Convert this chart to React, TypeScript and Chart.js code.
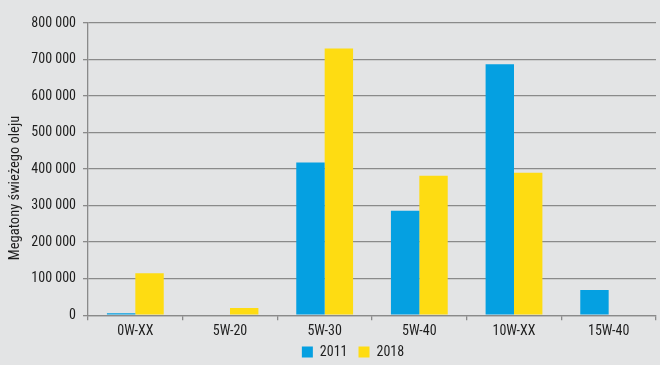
import React, { useEffect, useRef } from "react";
import { Chart, registerables } from "chart.js";

Chart.register(...registerables);

const categories = ["0W-XX", "5W-20", "5W-30", "5W-40", "10W-XX", "15W-40"];
const series2011 = [5000, 0, 418000, 286000, 687000, 69000];
const series2018 = [115000, 20000, 730000, 382000, 390000, 0];
const yTicks = [0, 100000, 200000, 300000, 400000, 500000, 600000, 700000, 800000];
const yTitle = "Megatony świeżego oleju";

const FONT = "'Roboto Condensed', 'Liberation Sans Narrow', sans-serif";
const BG = "#e3e4e5";
const GRID = "#8a8a8a";
const TEXT = "#1e1e1e";

const fmt = (v: number) => String(Math.round(v)).replace(/\B(?=(\d{3})+(?!\d))/g, " ");

export default function App() {
  const ref = useRef<HTMLCanvasElement | null>(null);
  useEffect(() => {
    if (!ref.current) return;
    const helper = {
      id: "helper",
      afterLayout(chart: any) {
        const lg = chart.legend;
        if (lg) {
          const dx = 25;
          const dy = -9;
          lg.left += dx;
          lg.right += dx;
          lg.top += dy;
          lg.bottom += dy;
        }
      },
      afterDraw(chart: any) {
        const ctx = chart.ctx;
        ctx.save();
        ctx.translate(15, 188);
        ctx.rotate(-Math.PI / 2);
        ctx.font = `14.5px ${FONT}`;
        ctx.fillStyle = TEXT;
        ctx.textAlign = "center";
        ctx.textBaseline = "middle";
        ctx.fillText(yTitle, 0, 0);
        ctx.restore();
      },
    };
    const chart = new Chart(ref.current, {
      type: "bar",
      data: {
        labels: categories,
        datasets: [
          { label: "2011", data: series2011, backgroundColor: "#05a0e1", borderWidth: 0 },
          { label: "2018", data: series2018, backgroundColor: "#fedc12", borderWidth: 0 },
        ],
      },
      options: {
        responsive: false,
        animation: false,
        devicePixelRatio: 1,
        layout: { padding: { left: 0, right: 4, top: 23, bottom: -13 } },
        datasets: { bar: { categoryPercentage: 0.6, barPercentage: 1.0 } },
        scales: {
          x: {
            offset: true,
            grid: { display: true, drawOnChartArea: false, drawTicks: true, tickLength: 5, color: GRID, lineWidth: 1.3, offset: true },
            border: { display: true, color: GRID, width: 1.3 },
            ticks: { color: TEXT, font: { family: FONT, size: 14 }, padding: 3, maxRotation: 0 },
          },
          y: {
            min: 0,
            max: 800000,
            afterFit: (scale: any) => { scale.width = 88; },
            afterBuildTicks: (scale: any) => { scale.ticks = yTicks.map((v) => ({ value: v })); },
            grid: { color: GRID, lineWidth: 1.3, tickLength: 5, drawTicks: true },
            border: { display: true, color: GRID, width: 1.3 },
            ticks: { color: TEXT, font: { family: FONT, size: 14 }, padding: 7, callback: (v: any) => fmt(Number(v)) },
          },
        },
        plugins: {
          legend: {
            position: "bottom",
            labels: {
              boxWidth: 11,
              boxHeight: 11,
              padding: 11,
              color: TEXT,
              font: { family: FONT, size: 14 },
            },
          },
          tooltip: { enabled: false },
        },
      },
      plugins: [helper],
    } as any);
    return () => chart.destroy();
  }, []);
  return (
    <div style={{ position: "absolute", left: 0, top: 0, width: 660, height: 365, background: BG }}>
      <canvas ref={ref} width={660} height={365} style={{ display: "block" }} />
    </div>
  );
}
